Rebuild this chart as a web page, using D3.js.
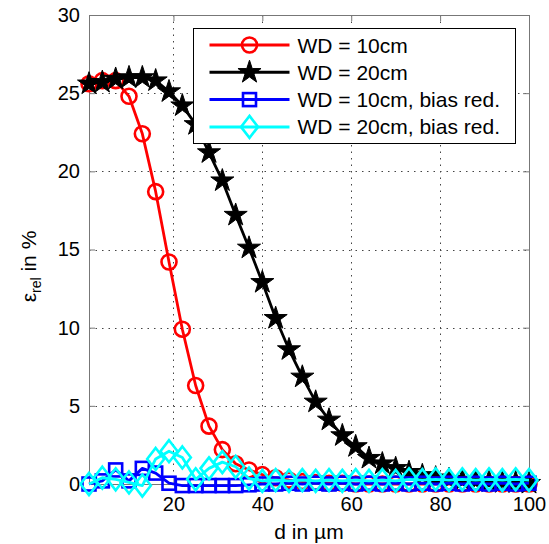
<!DOCTYPE html>
<html>
<head>
<meta charset="utf-8">
<script src="https://cdnjs.cloudflare.com/ajax/libs/d3/7.8.5/d3.min.js"></script>
<style>
  body { margin: 0; background: #fff; }
  text { font-family: "Liberation Sans", Arial, sans-serif; }
</style>
</head>
<body>
<div id="chart"></div>
<script>
// distance d in um (x values)
var dist = [1, 4, 7, 10, 13, 16, 19, 22, 25, 28, 31, 34, 37, 40, 43, 46, 49,
            52, 55, 58, 61, 64, 67, 70, 73, 76, 79, 82, 85, 88, 91, 94, 97, 100];

// relative error in %
var wd10 = [25.6, 25.8, 25.8, 24.8, 22.4, 18.7, 14.2, 9.9, 6.3, 3.7, 2.2, 1.3, 0.9,
            0.6, 0.4, 0.25, 0.15, 0.1, 0.05, 0.05, 0, 0, 0, 0, 0, 0, 0, 0, 0, 0, 0, 0, 0, 0];
var wd20 = [25.6, 25.7, 25.9, 26.0, 26.0, 25.8, 25.1, 24.2, 23.0, 21.2, 19.4, 17.2, 15.1,
            12.9, 10.6, 8.6, 6.85, 5.25, 4.1, 3.1, 2.4, 1.65, 1.3, 1.0, 0.75, 0.55, 0.4,
            0.3, 0.25, 0.2, 0.15, 0.1, 0.1, 0.05];
var wd10b = [0.0, 0.2, 0.9, 0.2, 1.0, 0.7, 0.05, -0.1, -0.1, -0.1, -0.1, -0.1, -0.05,
             0, 0, 0.05, 0, 0.05, 0, 0.05, 0, 0.05, 0, 0.05, 0, 0.05, 0, 0.05, 0, 0.05, 0, 0.05, 0, 0.05];
var wd20b = [0.0, 0.4, 0.3, 0.1, -0.1, 1.6, 2.1, 1.7, 0.3, 1.0, 1.4, 1.1, 0.35,
             0.2, 0.25, 0.2, 0.25, 0.2, 0.25, 0.2, 0.25, 0.2, 0.25, 0.2, 0.3, 0.25, 0.3,
             0.25, 0.3, 0.25, 0.3, 0.25, 0.3, 0.25];

var legendNames = ["WD = 10cm", "WD = 20cm", "WD = 10cm, bias red.", "WD = 20cm, bias red."];
var xTicks = [20, 40, 60, 80, 100];
var yTicks = [0, 5, 10, 15, 20, 25, 30];

var series = [
  {name: legendNames[0], values: wd10, color: "#ff0000", marker: "circle"},
  {name: legendNames[1], values: wd20, color: "#000000", marker: "star"},
  {name: legendNames[2], values: wd10b, color: "#0000ff", marker: "square"},
  {name: legendNames[3], values: wd20b, color: "#00ffff", marker: "diamond"}
];

var W = 549, H = 544;
var margin = {top: 15, right: 20, bottom: 60, left: 89},
    width = W - margin.left - margin.right,
    height = H - margin.top - margin.bottom;

var svg = d3.select("#chart")
  .append("svg")
    .attr("width", W)
    .attr("height", H)
  .append("g")
    .attr("transform", "translate(" + margin.left + "," + margin.top + ")");

var x = d3.scaleLinear().domain([1, 100]).range([0, width]);
var y = d3.scaleLinear().domain([0, 30]).range([height, 0]);

// dotted grid
svg.append("g").selectAll("line")
  .data(xTicks.filter(function(d) { return d < 100; }))
  .enter().append("line")
    .attr("x1", function(d) { return Math.round(x(d)) + 0.5; })
    .attr("x2", function(d) { return Math.round(x(d)) + 0.5; })
    .attr("y1", 0).attr("y2", height)
    .attr("stroke", "#444").attr("stroke-dasharray", "1.5,5");

svg.append("g").selectAll("line")
  .data(yTicks.filter(function(d) { return d > 0 && d < 30; }))
  .enter().append("line")
    .attr("y1", function(d) { return Math.round(y(d)) + 0.5; })
    .attr("y2", function(d) { return Math.round(y(d)) + 0.5; })
    .attr("x1", 0).attr("x2", width)
    .attr("stroke", "#444").attr("stroke-dasharray", "1.5,5");

// axes, ticks pointing inwards
var axisColor = "#777";
function styleAxis(g) {
  g.selectAll(".domain").attr("stroke", axisColor);
  g.selectAll(".tick line").attr("stroke", axisColor);
  g.selectAll("text").attr("fill", "#000").style("font-size", "20px")
    .style("font-family", "'Liberation Sans', Arial, sans-serif");
}

svg.append("g")
  .attr("transform", "translate(0," + height + ")")
  .call(d3.axisBottom(x).tickValues(xTicks).tickSizeInner(-6).tickSizeOuter(0).tickPadding(13))
  .call(styleAxis);

svg.append("g")
  .call(d3.axisLeft(y).tickValues(yTicks).tickSizeInner(-6).tickSizeOuter(0).tickPadding(9))
  .call(styleAxis);

svg.append("g")
  .call(d3.axisTop(x).tickValues(xTicks).tickSizeInner(-6).tickSizeOuter(0).tickFormat(""))
  .call(styleAxis);

svg.append("g")
  .attr("transform", "translate(" + width + ",0)")
  .call(d3.axisRight(y).tickValues(yTicks).tickSizeInner(-6).tickSizeOuter(0).tickFormat(""))
  .call(styleAxis);

// markers
var starPath = d3.symbol().type(d3.symbolStar).size(165)();
var diamondPath = "M0,-11L8.5,0L0,11L-8.5,0Z";

function drawMarker(sel, s) {
  if (s.marker == "circle") {
    sel.append("circle").attr("r", 7.5)
      .attr("fill", "none").attr("stroke", s.color).attr("stroke-width", 2.6);
  } else if (s.marker == "star") {
    sel.append("path").attr("d", starPath)
      .attr("fill", s.color).attr("stroke", s.color).attr("stroke-width", 1);
  } else if (s.marker == "square") {
    sel.append("rect").attr("x", -6.5).attr("y", -6.5).attr("width", 13).attr("height", 13)
      .attr("fill", "none").attr("stroke", s.color).attr("stroke-width", 2.6);
  } else {
    sel.append("path").attr("d", diamondPath)
      .attr("fill", "none").attr("stroke", s.color).attr("stroke-width", 2.6);
  }
}

var line = d3.line()
  .x(function(d, i) { return x(dist[i]); })
  .y(function(d) { return y(d); });

series.forEach(function(s) {
  var g = svg.append("g");
  g.append("path")
    .attr("d", line(s.values))
    .attr("fill", "none")
    .attr("stroke", s.color)
    .attr("stroke-width", 2.8)
    .attr("stroke-linejoin", "round");
  g.selectAll(".m")
    .data(s.values)
    .enter().append("g")
      .attr("class", "m")
      .attr("transform", function(d, i) { return "translate(" + x(dist[i]) + "," + y(d) + ")"; })
      .each(function() { drawMarker(d3.select(this), s); });
});

// axis labels
svg.append("text")
  .attr("x", x(50.5))
  .attr("y", height + 55)
  .style("text-anchor", "middle")
  .style("font-size", "21px")
  .text("d in µm");

var yl = svg.append("text")
  .attr("transform", "translate(" + (-53) + "," + (height / 2 + 17) + ") rotate(-90)")
  .style("text-anchor", "middle")
  .style("font-size", "21px");
yl.append("tspan").text("ε");
yl.append("tspan").attr("dy", 5).style("font-size", "14px").text("rel");
yl.append("tspan").attr("dy", -5).text(" in %");

// legend
var legend = svg.append("g")
  .attr("transform", "translate(" + (193.5 - margin.left) + "," + (28.5 - margin.top) + ")");

legend.append("rect")
  .attr("width", 322).attr("height", 115)
  .attr("fill", "#fff").attr("stroke", "#000").attr("stroke-width", 1);

series.forEach(function(s, i) {
  var row = legend.append("g").attr("transform", "translate(0," + (16.5 + i * 27.3) + ")");
  row.append("line")
    .attr("x1", 16).attr("x2", 96)
    .attr("stroke", s.color).attr("stroke-width", 3);
  drawMarker(row.append("g").attr("transform", "translate(56,0)"), s);
  row.append("text")
    .attr("x", 104)
    .attr("dy", "0.36em")
    .style("font-size", "21px")
    .text(s.name);
});
</script>
</body>
</html>
